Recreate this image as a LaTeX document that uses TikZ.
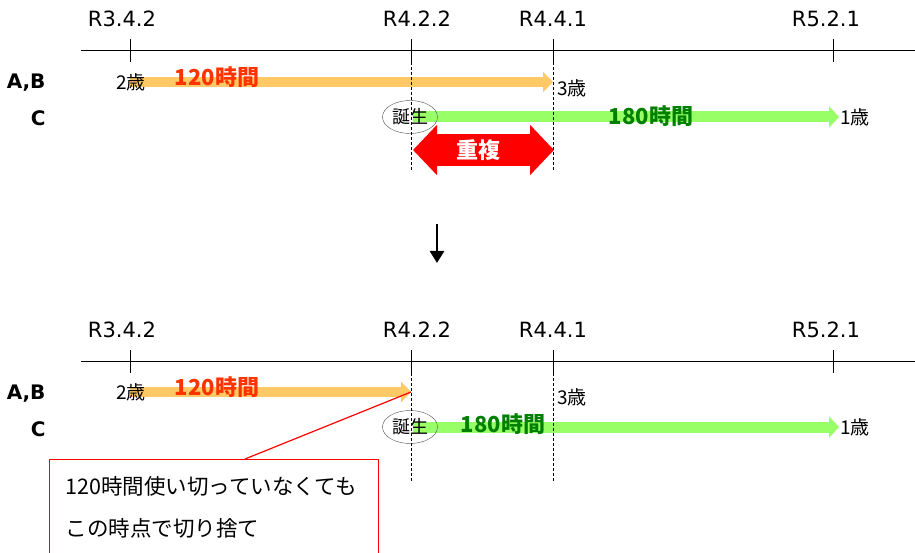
\documentclass[tikz,border=0pt]{standalone}
\usepackage{fontspec}
\setmainfont{DejaVu Sans}
\newfontfamily\jp{Noto Sans CJK JP}
\usetikzlibrary{arrows.meta,shapes.geometric,calc}
\definecolor{barorange}{HTML}{FFC966}
\definecolor{bargreen}{HTML}{99FF66}
\definecolor{hourred}{HTML}{FF3300}
\definecolor{hourgreen}{HTML}{008000}
\begin{document}
\begin{tikzpicture}[x=1pt,y=-1pt,
    datelbl/.style={font=\fontsize{21}{21}\selectfont},
    rowlbl/.style={anchor=east,font=\fontsize{20}{20}\selectfont\bfseries},
    agelbl/.style={anchor=west,inner sep=0pt,font=\jp\fontsize{19}{19}\selectfont},
    hours/.style={inner sep=0pt,font=\jp\fontsize{22}{22}\selectfont\bfseries},
    birth/.style={ellipse,draw=black!70,minimum width=55pt,minimum height=33pt,inner sep=0pt,font=\jp\fontsize{18}{18}\selectfont},
    guide/.style={dash pattern=on 3pt off 2pt,line width=0.7pt},
    orangebar/.style={barorange,line width=10pt,-{Triangle[length=10pt,width=20pt]}},
    greenbar/.style={bargreen,line width=11pt,-{Triangle[length=10pt,width=21pt]}}]
    \clip (0,0) rectangle (915,553);

    % before
    \coordinate (t-abs) at (130,82);
    \coordinate (t-abe) at (553,82);
    \coordinate (t-cs) at (413,117);
    \coordinate (t-ce) at (839,117);
    \coordinate (t-ovs) at (413,150);
    \coordinate (t-ove) at (554,150);
    \draw[orangebar] (t-abs) -- (t-abe);
    \draw[greenbar] (t-cs) -- (t-ce);
    \draw[red,line width=32pt,{Triangle[length=24pt,width=49pt]}-{Triangle[length=24pt,width=49pt]}] (t-ovs) -- (t-ove);
    \node[agelbl] (t-age2) at (116,82) {2歳};
    \node[hours,text=hourred] (t-h120) at (217,77) {120時間};
    \node[agelbl] (t-age3) at (557,88) {3歳};
    \node[birth] (t-birth) at (410,117) {誕生};
    \node[hours,text=hourgreen] (t-h180) at (651,116) {180時間};
    \node[agelbl] (t-age1) at (840,117) {1歳};
    \node[hours,text=white] (t-dup) at (478,150) {重複};

    \coordinate (arr-s) at (437,224);
    \coordinate (arr-e) at (437,263);
    \draw[line width=2.8pt,-{Triangle[length=12pt,width=14pt]}] (arr-s) -- (arr-e);

    % after
    \coordinate (b-abs) at (130,392);
    \coordinate (b-abe) at (411,392);
    \coordinate (b-cs) at (413,427);
    \coordinate (b-ce) at (839,427);
    \draw[orangebar] (b-abs) -- (b-abe);
    \draw[greenbar] (b-cs) -- (b-ce);
    \node[agelbl] (b-age2) at (116,392) {2歳};
    \node[hours,text=hourred] (b-h120) at (217,387) {120時間};
    \node[agelbl] (b-age3) at (557,397) {3歳};
    \node[birth] (b-birth) at (410,427) {誕生};
    \node[hours,text=hourgreen] (b-h180) at (503,424) {180時間};
    \node[agelbl] (b-age1) at (840,427) {1歳};

    \node[draw=red,line width=1.2pt,fill=white,anchor=north west,align=left,
        text width=297pt,inner xsep=16pt,inner ysep=17pt,
        font=\jp\fontsize{21.5}{42}\selectfont] (note) at (49,459)
        {120時間使い切っていなくても\\この時点で切り捨て};
    \draw[red,line width=1.2pt] (b-abe) -- ($(note.north west)+(196,0)$);

    \foreach \dy/\pre in {0/t,311/b}{
        \coordinate (\pre-l) at (81,50+\dy);
        \coordinate (\pre-r) at (915,50+\dy);
        \draw[line width=0.8pt] (\pre-l) -- (\pre-r);
        \foreach \x/\lx/\lab/\n in {130/122/R3.4.2/1,411/417/R4.2.2/2,553/553/R4.4.1/3,833/826/R5.2.1/4}{
            \coordinate (\pre-tk\n) at (\x,39+\dy);
            \coordinate (\pre-tb\n) at (\x,62+\dy);
            \draw[line width=0.7pt] (\pre-tk\n) -- (\pre-tb\n);
            \node[datelbl] (\pre-d\n) at (\lx,19+\dy) {\lab};
        }
        \coordinate (\pre-g2) at (411,171+\dy);
        \coordinate (\pre-g3) at (553,171+\dy);
        \draw[guide] (\pre-tb2) -- (\pre-g2);
        \draw[guide] (\pre-tb3) -- (\pre-g3);
        \node[rowlbl] (\pre-ab) at (49,83+\dy) {A,B};
        \node[rowlbl] (\pre-c) at (49,118+\dy) {C};
    }
\end{tikzpicture}
\end{document}
